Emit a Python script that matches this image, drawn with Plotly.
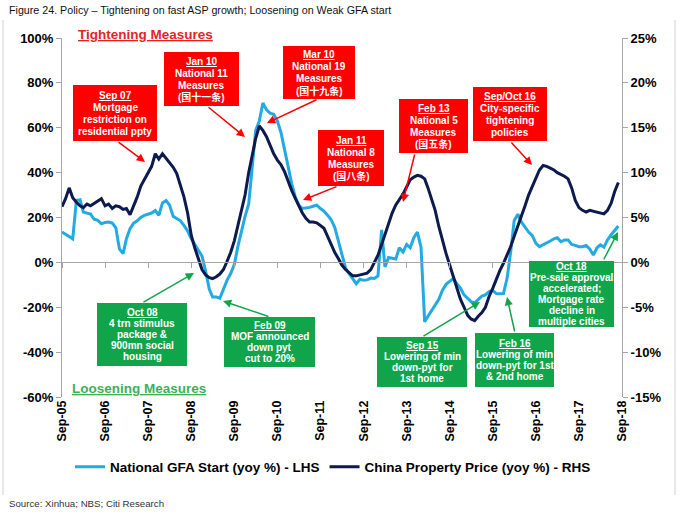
import pandas as pd
import plotly.graph_objects as go

# ---------------- data ----------------
start_month = "2005-09-01"
n_months = 156
dates = pd.date_range(start_month, periods=n_months, freq="MS")

# National GFA Start (yoy %) - LHS
gfa_start = [
    13.5, 12.5, 11.8, 10.5, 27.6, 27.9, 22.4, 22.0, 21.5, 19.2, 18.7, 17.2,
    17.8, 18.0, 17.5, 15.5, 6.0, 3.9, 10.5, 15.0, 17.5, 18.5, 20.0, 21.0,
    21.5, 22.0, 23.1, 21.0, 26.5, 27.6, 25.5, 20.5, 19.6, 18.5, 16.5, 14.0,
    10.5, 8.0, 5.0, 2.8, -4.0, -12.0, -15.4, -15.4, -16.0, -12.0, -8.0, -5.0,
    -1.0, 7.0, 14.0, 20.5, 26.0, 44.0, 58.7, 63.0, 71.0, 68.0, 66.5, 66.0,
    63.0, 58.0, 50.0, 42.0, 35.0, 29.0, 25.5, 24.0, 24.2, 24.5, 25.0, 25.5,
    24.0, 22.8, 21.0, 19.0, 15.5, 9.0, 3.0, -2.5, -5.0, -7.5, -9.5, -7.5,
    -8.0, -7.8, -7.0, -7.2, -6.0, 14.5, -2.0, 2.2, 2.0, 1.5, 6.5, 4.6,
    8.0, 6.5, 11.0, 13.5, 6.8, -26.5, -24.0, -21.5, -19.0, -16.5, -12.5, -9.8,
    -8.5, -7.2, -9.5, -11.5, -14.5, -16.0, -17.5, -18.0, -16.5, -15.0, -14.5, -13.0,
    -12.5, -13.9, -14.0, -13.9, -7.0, 5.0, 18.7, 21.5, 18.0, 15.5, 13.5, 12.0,
    8.5, 7.0, 7.8, 8.5, 9.5, 10.5, 11.0, 9.2, 10.0, 10.0, 8.0, 7.6,
    7.0, 7.0, 7.5, 6.0, 3.3, 6.5, 7.8, 6.8, 10.0, 12.3, 14.5, 16.2,
]

# China Property Price (yoy %) - RHS
property_price = [
    6.2, 7.1, 8.3, 7.2, 6.7, 6.3, 6.1, 6.5, 6.3, 6.6, 6.8, 7.1,
    6.3, 6.5, 6.0, 6.3, 6.2, 5.9, 6.0, 5.3, 6.3, 7.3, 8.5, 9.3,
    10.0, 10.7, 12.1, 11.5, 12.1, 11.6, 11.1, 10.6, 9.9, 8.6, 7.3, 5.5,
    3.0, 1.6, 0.3, -0.8, -1.4, -1.7, -1.8, -1.6, -1.3, -0.8, 0.1, 1.1,
    2.4, 4.0, 5.6, 7.5, 10.0, 12.0, 13.8, 15.2, 14.7, 14.0, 13.0, 12.1,
    11.4, 10.9, 10.1, 9.0, 8.0, 7.1, 6.3, 5.5, 4.9, 4.5, 4.5, 4.4,
    4.1, 3.8, 2.9, 2.0, 1.1, 0.4, -0.3, -0.8, -1.2, -1.5, -1.5, -1.4,
    -1.3, -1.2, -0.8, 0.0, 0.8, 2.0, 3.1, 4.3, 5.5, 6.4, 7.0, 7.6,
    8.4, 9.2, 9.5, 9.7, 9.6, 9.3, 8.3, 7.1, 5.8, 4.0, 2.4, 1.0,
    -0.3, -1.6, -3.0, -4.1, -5.0, -5.9, -6.3, -6.5, -6.0, -5.6, -5.0, -3.8,
    -2.9, -1.9, -0.9, -0.1, 0.8, 1.8, 2.9, 4.0, 5.0, 6.3, 7.5, 8.5,
    9.4, 10.3, 10.8, 10.7, 10.5, 10.3, 10.0, 9.8, 9.6, 9.3, 8.3, 6.9,
    6.1, 5.8, 5.6, 5.8, 5.7, 5.6, 5.5, 5.4, 5.8, 6.6, 7.9, 8.9,
]

tick_dates = pd.date_range("2005-09-01", "2018-09-01", freq="12MS")
tick_labels = ["Sep-%02d" % (d.year % 100) for d in tick_dates]

left_ticks = [100, 80, 60, 40, 20, 0, -20, -40, -60]
right_ticks = [25, 20, 15, 10, 5, 0, -5, -10, -15]

series_names = ["National GFA Start (yoy %) - LHS", "China Property Price (yoy %) - RHS"]

# Policy call-outs: (box px x0, y0, x1, y1), text lines, arrow tail px, arrow head px
red_notes = [
    ((73, 85, 157, 141), ["<u>Sep 07</u>", "Mortgage", "restriction on", "residential ppty"], (117, 141), (145, 162)),
    ((164, 52, 239, 106), ["<u>Jan 10</u>", "National 11", "Measures", "(国十一条)"], (207, 106), (245, 137)),
    ((283, 46, 355, 99), ["<u>Mar 10</u>", "National 19", "Measures", "(国十九条)"], (318, 99), (267, 123)),
    ((318, 130, 384, 186), ["<u>Jan 11</u>", "National 8", "Measures", "(国八条)"], (338, 186), (303, 200)),
    ((399, 99, 468, 153), ["<u>Feb 13</u>", "National 5", "Measures", "(国五条)"], (415, 153), (403, 202)),
    ((473, 87, 547, 141), ["<u>Sep/Oct 16</u>", "City-specific", "tightening", "policies"], (510, 141), (532, 165)),
]
green_notes = [
    ((97, 303, 187, 366), ["<u>Oct 08</u>", "4 trn stimulus", "package &", "900mn social", "housing"], (142, 303), (194, 273)),
    ((224, 317, 315, 367), ["<u>Feb 09</u>", "MOF announced", "down pyt", "cut to 20%"], (270, 317), (223, 301)),
    ((377, 337, 467, 387), ["<u>Sep 15</u>", "Lowering of min", "down-pyt for", "1st home"], (422, 337), (480, 302)),
    ((475, 333, 554, 387), ["<u>Feb 16</u>", "Lowering of min", "down-pyt for 1st", "& 2nd home"], (515, 333), (507, 297)),
    ((529, 261, 614, 327), ["<u>Oct 18</u>", "Pre-sale approval", "accelerated;", "Mortgage rate", "decline in", "multiple cities"], (603, 261), (618, 232)),
]

# ---------------- styling ----------------
W, H = 680, 514
ML, MR, MT, MB = 62, 58, 38, 117
PW, PH = W - ML - MR, H - MT - MB
FONT = "Liberation Sans, Arial, Noto Sans CJK SC, sans-serif"
LIGHT = "#22AAE2"
DARK = "#0C1A4E"
RED = "#FF0000"
GREEN = "#10A54A"
AXIS = "#A6A6A6"


def px(xp):
    return (xp - ML) / PW


def py(yp):
    return (H - MB - yp) / PH


fig = go.Figure()
fig.add_trace(go.Scatter(x=dates, y=gfa_start, name="<b>%s</b>" % series_names[0], mode="lines",
                         line=dict(color=LIGHT, width=3), yaxis="y"))
fig.add_trace(go.Scatter(x=dates, y=property_price, name="<b>%s</b>" % series_names[1], mode="lines",
                         line=dict(color=DARK, width=3), yaxis="y2"))
# helper (invisible) trace so the zero-crossing tick axis is drawn
fig.add_trace(go.Scatter(x=[dates[0]], y=[0], mode="markers", marker=dict(opacity=0),
                         xaxis="x2", yaxis="y", showlegend=False, hoverinfo="skip"))

x_range = [tick_dates[0], tick_dates[-1]]

fig.update_layout(
    width=W, height=H,
    margin=dict(l=ML, r=MR, t=MT, b=MB, autoexpand=False),
    paper_bgcolor="white", plot_bgcolor="white",
    font=dict(family=FONT, color="black"),
    showlegend=True,
    legend=dict(orientation="h", x=px(333), xanchor="center", y=py(467), yanchor="middle",
                font=dict(family=FONT, size=13.5, color="black"),
                itemwidth=30, tracegroupgap=0, bgcolor="rgba(0,0,0,0)"),
    xaxis=dict(range=x_range, tickvals=tick_dates, ticktext=["<b>%s</b>" % t for t in tick_labels],
               tickangle=-90, showline=False, ticks="", showgrid=False, zeroline=False,
               tickfont=dict(size=12.5, family=FONT, color="black")),
    xaxis2=dict(range=x_range, overlaying="x", anchor="free", position=py(262),
                tickvals=tick_dates, showticklabels=False, ticks="outside", ticklen=5,
                tickcolor=AXIS, showline=True, linecolor=AXIS, linewidth=1, showgrid=False,
                zeroline=False),
    yaxis=dict(range=[-60, 100], tickvals=left_ticks,
               ticktext=["<b>%d%%</b>" % v for v in left_ticks],
               showline=True, linecolor=AXIS, ticks="outside", ticklen=5, tickcolor=AXIS,
               showgrid=False, zeroline=False, tickfont=dict(size=13, color="black")),
    yaxis2=dict(range=[-15, 25], tickvals=right_ticks,
                ticktext=["<b>%d%%</b>" % v for v in right_ticks],
                overlaying="y", side="right",
                showline=True, linecolor=AXIS, ticks="outside", ticklen=5, tickcolor=AXIS,
                showgrid=False, zeroline=False, tickfont=dict(size=13, color="black")),
)

shapes = []
annotations = []

# outer frame (left & right edges)
for xe in (3, 675):
    shapes.append(dict(type="line", xref="paper", yref="paper", x0=px(xe), x1=px(xe),
                       y0=py(20), y1=py(495), line=dict(color="#D0D0D0", width=1), layer="below"))

# title & source
annotations.append(dict(text="Figure 24. Policy \u2013 Tightening on fast ASP growth; Loosening on Weak GFA start",
                        xref="paper", yref="paper", x=px(7), y=py(10), xanchor="left", yanchor="middle",
                        showarrow=False, font=dict(size=10.7, color="#111111")))
annotations.append(dict(text="Source: Xinhua; NBS; Citi Research",
                        xref="paper", yref="paper", x=px(7), y=py(503), xanchor="left", yanchor="middle",
                        showarrow=False, font=dict(size=9.7, color="#333333")))

# section headers
annotations.append(dict(text="<b><u>Tightening Measures</u></b>", xref="paper", yref="paper",
                        x=px(145), y=py(35), xanchor="center", yanchor="middle", showarrow=False,
                        font=dict(size=13.5, color="#E8231F")))
annotations.append(dict(text="<b><u>Loosening Measures</u></b>", xref="paper", yref="paper",
                        x=px(139), y=py(388), xanchor="center", yanchor="middle", showarrow=False,
                        font=dict(size=13.5, color="#3DB05A")))


def add_note(box, lines, tail, head, color, spacing):
    x0, y0, x1, y1 = box
    shapes.append(dict(type="rect", xref="paper", yref="paper", x0=px(x0), x1=px(x1),
                       y0=py(y1), y1=py(y0), fillcolor=color, line=dict(width=0), layer="above"))
    cy = (y0 + y1) / 2
    cx = (x0 + x1) / 2
    n = len(lines)
    for i, t in enumerate(lines):
        ly = cy + (i - (n - 1) / 2) * spacing
        annotations.append(dict(text="<b>%s</b>" % t, xref="paper", yref="paper", x=px(cx), y=py(ly),
                                xanchor="center", yanchor="middle", showarrow=False,
                                font=dict(size=10, color="white")))
    annotations.append(dict(text="", xref="paper", yref="paper", x=px(head[0]), y=py(head[1]),
                            ax=tail[0] - head[0], ay=tail[1] - head[1], axref="pixel", ayref="pixel",
                            showarrow=True, arrowhead=2, arrowsize=1.1, arrowwidth=1.5,
                            arrowcolor=color))


for box, lines, tail, head in red_notes:
    add_note(box, lines, tail, head, RED, 12)
for box, lines, tail, head in green_notes:
    add_note(box, lines, tail, head, GREEN, 11)

fig.update_layout(shapes=shapes, annotations=annotations)
fig.write_html("out.html", config={"displayModeBar": False},
               post_script="document.body.style.margin='0';document.body.style.padding='0';")
